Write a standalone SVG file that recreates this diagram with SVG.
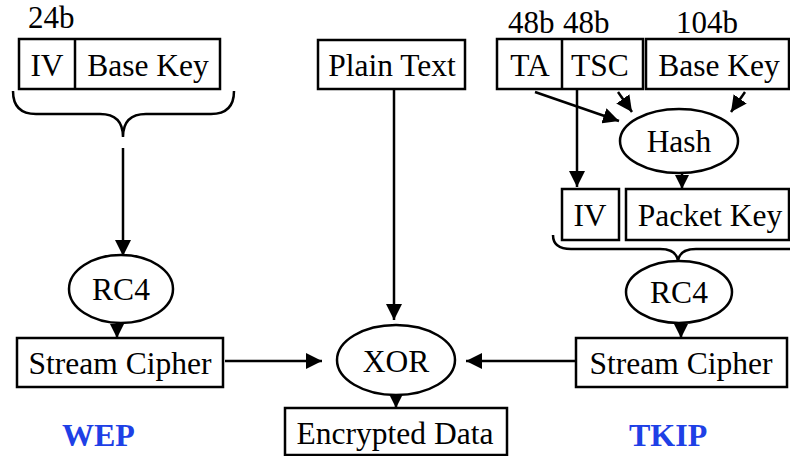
<svg xmlns="http://www.w3.org/2000/svg" width="790" height="456" viewBox="0 0 790 456">
<defs>
<style>
.b{fill:#fff;stroke:#000;stroke-width:2.5}
.e{fill:#fff;stroke:#000;stroke-width:2.5}
.l{fill:none;stroke:#000;stroke-width:2.5}
.t{font-family:"Liberation Serif","Times New Roman",serif;font-size:31.5px;fill:#000;text-anchor:middle}
.s{font-family:"Liberation Serif","Times New Roman",serif;font-size:31px;fill:#000}
.k{font-family:"Liberation Serif","Times New Roman",serif;font-size:32px;font-weight:bold;fill:#1e40e6}
</style>
<marker id="a" markerUnits="userSpaceOnUse" markerWidth="16" markerHeight="16" refX="15" refY="7.5" orient="auto" viewBox="0 0 15 15">
<path d="M0,0 L15,7.5 L0,15 z" fill="#000"/>
</marker>
<marker id="m" markerUnits="userSpaceOnUse" markerWidth="14" markerHeight="14" refX="13" refY="6.5" orient="auto" viewBox="0 0 13 13">
<path d="M0,0 L13,6.5 L0,13 z" fill="#000"/>
</marker>
</defs>
<rect width="790" height="456" fill="#fff"/>

<g id="connectors">
<path class="l" d="M13,91 Q13,114 36,114 L100,114 Q123,114 123,137 Q123,114 146,114 L211,114 Q234,114 234,91"/>
<line class="l" x1="123" y1="148" x2="123" y2="256" marker-end="url(#a)"/>
<line class="l" x1="117" y1="323" x2="117" y2="338" marker-end="url(#m)"/>
<line class="l" x1="225" y1="361" x2="322" y2="361" marker-end="url(#a)"/>
<line class="l" x1="394" y1="89" x2="394" y2="320" marker-end="url(#a)"/>
<line class="l" x1="396" y1="394" x2="396" y2="408" marker-end="url(#m)"/>
<line class="l" x1="576" y1="361" x2="466" y2="361" marker-end="url(#a)"/>
<line class="l" x1="535" y1="92" x2="619" y2="121" marker-end="url(#a)"/>
<line class="l" x1="618" y1="92" x2="632" y2="112" marker-end="url(#a)"/>
<line class="l" x1="745" y1="92" x2="731" y2="112" marker-end="url(#a)"/>
<line class="l" x1="577" y1="89" x2="577" y2="187" marker-end="url(#a)"/>
<line class="l" x1="682" y1="173" x2="682" y2="189" marker-end="url(#m)"/>
<path class="l" d="M553,235 Q553,249 571,249 L660,249 Q678,249 678,263 Q678,249 696,249 L800,249"/>
<line class="l" x1="681" y1="323" x2="681" y2="338" marker-end="url(#m)"/>
</g>

<g id="wep-key">
<text class="s" x="28" y="28">24b</text>
<rect class="b" x="19" y="39" width="201" height="50"/>
<line class="l" x1="75" y1="39" x2="75" y2="89"/>
<text class="t" x="47" y="76">IV</text>
<text class="t" x="148" y="76">Base Key</text>
</g>

<g id="wep-rc4">
<ellipse class="e" cx="121" cy="289" rx="52" ry="34"/>
<text class="t" x="121" y="300">RC4</text>
</g>

<g id="wep-stream">
<rect class="b" x="17" y="338" width="206" height="49"/>
<text class="t" x="120" y="374">Stream Cipher</text>
</g>

<g id="wep-label"><text class="k" x="62" y="446">WEP</text></g>

<g id="plain-text">
<rect class="b" x="318" y="40" width="147" height="49"/>
<text class="t" x="392" y="76">Plain Text</text>
</g>

<g id="xor">
<ellipse class="e" cx="396" cy="360" rx="59" ry="35"/>
<text class="t" x="396" y="372">XOR</text>
</g>

<g id="encrypted">
<rect class="b" x="285" y="408" width="222" height="47"/>
<text class="t" x="395" y="444">Encrypted Data</text>
</g>

<g id="tkip-ta-tsc">
<text class="s" x="508" y="33">48b</text>
<text class="s" x="563" y="33">48b</text>
<rect class="b" x="497" y="39" width="146" height="50"/>
<line class="l" x1="562" y1="39" x2="562" y2="89"/>
<text class="t" x="530" y="76">TA</text>
<text class="t" x="600" y="76">TSC</text>
</g>

<g id="tkip-base-key">
<text class="s" x="676" y="33">104b</text>
<rect class="b" x="646" y="39" width="143" height="50"/>
<text class="t" x="719" y="76">Base Key</text>
</g>

<g id="hash">
<ellipse class="e" cx="679" cy="141" rx="59" ry="32"/>
<text class="t" x="679" y="152">Hash</text>
</g>

<g id="tkip-iv">
<rect class="b" x="562" y="189" width="57" height="51"/>
<text class="t" x="590" y="226">IV</text>
</g>

<g id="packet-key">
<rect class="b" x="626" y="189" width="163" height="51"/>
<text class="t" x="710" y="226">Packet Key</text>
</g>

<g id="tkip-rc4">
<ellipse class="e" cx="679" cy="292" rx="53" ry="31"/>
<text class="t" x="679" y="303">RC4</text>
</g>

<g id="tkip-stream">
<rect class="b" x="576" y="338" width="211" height="49"/>
<text class="t" x="681" y="374">Stream Cipher</text>
</g>

<g id="tkip-label"><text class="k" x="629" y="446">TKIP</text></g>
</svg>
